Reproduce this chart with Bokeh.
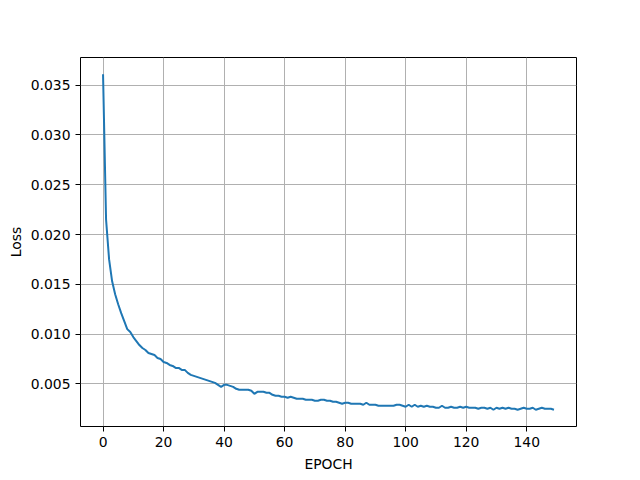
from bokeh.plotting import figure
from bokeh.models import Range1d, FixedTicker, PrintfTickFormatter
from bokeh.embed import file_html
from bokeh.resources import INLINE

loss = [
    0.0361, 0.0215, 0.0175, 0.0153, 0.0140, 0.0130, 0.0121, 0.0113, 0.0105, 0.0102,
    0.0097, 0.0093, 0.0089, 0.0086, 0.0084, 0.0081, 0.0080, 0.0079, 0.0076, 0.0075,
    0.0072, 0.0071, 0.0069, 0.0068, 0.0066, 0.0066, 0.0064, 0.0064, 0.0061, 0.0059,
    0.0058, 0.0057, 0.0056, 0.0055, 0.0054, 0.0053, 0.0052, 0.0051, 0.0049, 0.0047,
    0.0049, 0.0049, 0.0048, 0.0047, 0.0045, 0.0044, 0.0044, 0.0044, 0.0044, 0.0043,
    0.0040, 0.0042, 0.0042, 0.0042, 0.0041, 0.0041, 0.0039, 0.0038, 0.0038, 0.0037,
    0.0037, 0.0036, 0.0037, 0.0036, 0.0035, 0.0035, 0.0035, 0.0034, 0.0034, 0.0034,
    0.0033, 0.0033, 0.0034, 0.0034, 0.0033, 0.0033, 0.0032, 0.0032, 0.0031, 0.0030,
    0.0031, 0.0031, 0.0030, 0.0030, 0.0030, 0.0030, 0.0029, 0.0031, 0.0029, 0.0029,
    0.0029, 0.0028, 0.0028, 0.0028, 0.0028, 0.0028, 0.0028, 0.0029, 0.0029, 0.0028,
    0.0027, 0.0029, 0.0027, 0.0029, 0.0027, 0.0028, 0.0027, 0.0028, 0.0027, 0.0027,
    0.0026, 0.0026, 0.0028, 0.0026, 0.0026, 0.0027, 0.0026, 0.0026, 0.0027, 0.0026,
    0.0027, 0.0026, 0.0026, 0.0026, 0.0025, 0.0026, 0.0026, 0.0025, 0.0026, 0.0024,
    0.0026, 0.0025, 0.0026, 0.0025, 0.0026, 0.0025, 0.0025, 0.0024, 0.0025, 0.0026,
    0.0025, 0.0025, 0.0026, 0.0024, 0.0025, 0.0026, 0.0025, 0.0025, 0.0025, 0.0024,
]
epochs = list(range(len(loss)))
x_ticks = [0, 20, 40, 60, 80, 100, 120, 140]
y_ticks = [0.005, 0.010, 0.015, 0.020, 0.025, 0.030, 0.035]

xmin, xmax = min(epochs), max(epochs)
ymin, ymax = min(loss), max(loss)
xm = 0.05 * (xmax - xmin)
ym = 0.05 * (ymax - ymin)

p = figure(width=624, height=464, frame_width=496, frame_height=369,
           output_backend="svg", toolbar_location=None,
           x_range=Range1d(xmin - xm, xmax + xm),
           y_range=Range1d(ymin - ym, ymax + ym),
           min_border_left=80, min_border_right=48,
           min_border_top=57, min_border_bottom=38)
p.background_fill_color = "white"
p.border_fill_color = "white"
p.outline_line_color = "black"
p.outline_line_width = 1

p.line(epochs, loss, line_color="#1f77b4", line_width=2)

font = "DejaVu Sans"
fs = "13.9px"
for ax in (p.xaxis[0], p.yaxis[0]):
    ax.major_tick_out = 5
    ax.major_tick_in = 0
    ax.minor_tick_out = 0
    ax.minor_tick_in = 0
    ax.axis_line_color = None
    ax.major_tick_line_color = "black"
    ax.major_tick_line_width = 1
    ax.major_label_text_font = font
    ax.major_label_text_font_size = fs
    ax.major_label_text_color = "black"
    ax.major_label_standoff = 5
    ax.axis_label_text_font = font
    ax.axis_label_text_font_size = fs
    ax.axis_label_text_font_style = "normal"
    ax.axis_label_text_color = "black"
    ax.axis_label_standoff = 6
p.yaxis[0].axis_label_standoff = 4

p.xaxis[0].ticker = FixedTicker(ticks=x_ticks)
p.yaxis[0].ticker = FixedTicker(ticks=y_ticks)
p.yaxis[0].formatter = PrintfTickFormatter(format="%.3f")
p.xaxis[0].axis_label = "EPOCH"
p.yaxis[0].axis_label = "Loss"

for g in (p.xgrid[0], p.ygrid[0]):
    g.grid_line_color = "#b0b0b0"
    g.grid_line_width = 1

open("out.html", "w").write(file_html(p, INLINE))
